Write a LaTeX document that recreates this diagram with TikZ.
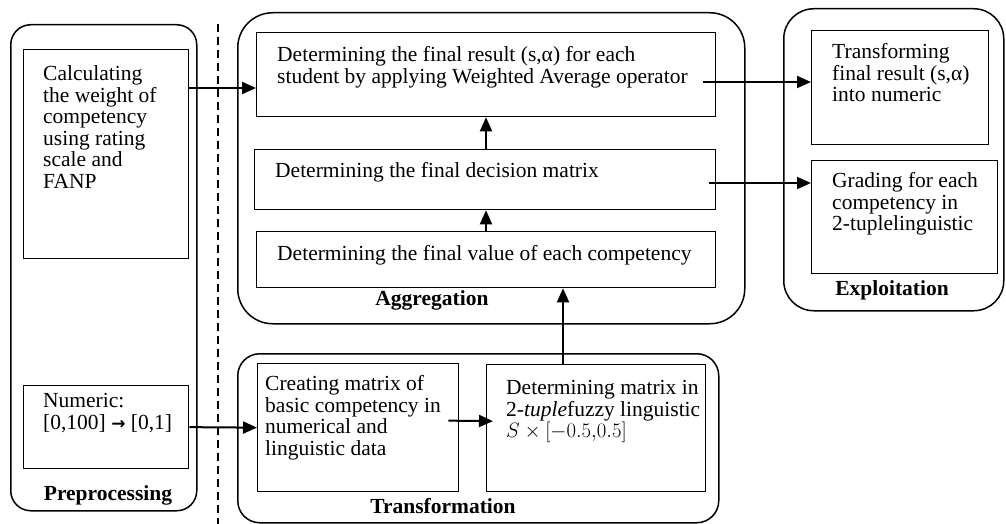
\documentclass[tikz,border=0pt]{standalone}
\usepackage{fontspec}
\setmainfont{Liberation Serif}[BoldFont={Liberation Serif Bold}, ItalicFont={Liberation Serif Italic}, BoldItalicFont={Liberation Serif Bold Italic}]
\newfontfamily\arrowfont{DejaVu Sans}[BoldFont={DejaVu Sans Bold}]
\usetikzlibrary{arrows.meta,calc}
\begin{document}
\begin{tikzpicture}[x=1pt,y=-1pt,
  outer/.style={draw, line width=1.5pt, rounded corners=#1, anchor=north west, inner sep=0pt},
  box/.style={draw, line width=1.3pt, anchor=north west, inner sep=0pt},
  txt/.style={anchor=north west, inner sep=0pt, align=left, font=\fontsize{21.5}{21.5}\selectfont},
  lbl/.style={anchor=base, inner sep=0pt, font=\fontsize{21.5}{21.5}\selectfont\bfseries},
  arr/.style={line width=2pt, -{Triangle[length=14pt,width=12pt]}},
  sep/.style={line width=2pt, dash pattern=on 8pt off 5pt}]
\useasboundingbox (0,0) rectangle (1006,524);
% outer groups
\node[outer=20pt, minimum width=186pt, minimum height=486pt] (pre) at (10,24) {};
\node[outer=35pt, minimum width=507pt, minimum height=311pt] (agg) at (237,12) {};
\node[outer=22pt, minimum width=481pt, minimum height=169pt] (trans) at (237,353) {};
\node[outer=30pt, minimum width=220pt, minimum height=302pt] (expl) at (783,8) {};
% separator
\coordinate (s1) at (218,24);
\coordinate (s2) at (218,524);
\draw[sep] (s1) -- (s2);
% inner boxes
\node[box, minimum width=165pt, minimum height=209pt] (calc) at (23,49) {};
\node[box, minimum width=165pt, minimum height=83pt] (num) at (23,385) {};
\node[box, minimum width=459pt, minimum height=84pt] (top) at (256,32) {};
\node[box, minimum width=461pt, minimum height=60pt] (dec) at (254,149) {};
\node[box, minimum width=459pt, minimum height=56pt] (fin) at (256,231) {};
\node[box, minimum width=201pt, minimum height=128pt] (creat) at (257,363) {};
\node[box, minimum width=219pt, minimum height=127pt] (det) at (486,364) {};
\node[box, minimum width=177pt, minimum height=114pt] (trf) at (811,30) {};
\node[box, minimum width=186pt, minimum height=113pt] (grd) at (811,160) {};
% texts
\node[txt] (tcalc) at (43,65.5) {Calculating\\the weight of\\competency\\using rating\\scale and\\FANP};
\node[txt] (tnum) at (43,393.5) {Numeric:\\{[0,100]} {\arrowfont\bfseries\fontsize{17}{17}\selectfont →} [0,1]};
\node[txt] (ttop) at (277,46.5) {Determining the final result (s,α) for each\\student by applying Weighted Average operator};
\node[txt] (tdec) at (275,162.5) {Determining the final decision matrix};
\node[txt] (tfin) at (277,245.5) {Determining the final value of each competency};
\node[txt] (tcreat) at (265,375.5) {Creating matrix of\\basic competency in\\numerical and\\linguistic data};
\node[txt] (tdet) at (506,380.5) {Determining matrix in\\2-\textit{tuple}fuzzy linguistic\\$S\times[-0.5{,}0.5]$};
\node[txt] (ttrf) at (832,43.5) {Transforming\\final result (s,α)\\into numeric};
\node[txt] (tgrd) at (832,172.5) {Grading for each\\competency in\\2-tuplelinguistic};
% labels
\node[lbl] (lpre) at (108,500) {Preprocessing};
\node[lbl] (lagg) at (432,305) {Aggregation};
\node[lbl] (ltrans) at (443,513) {Transformation};
\node[lbl] (lexpl) at (892,295) {Exploitation};
% arrows
\draw[arr] ($(calc.north east)+(0,39)$) -- ($(top.north west)+(0,56)$);
\draw[arr] (num.east) -- (creat.west);
\draw[arr] ($(creat.east)+(-11,-7)$) -- ($(det.west)+(7,-7)$);
\draw[arr] ($(det.north west)+(77,0)$) -- ($(fin.south west)+(307,0)$);
\draw[arr] ($(fin.north west)+(230,0)$) -- ($(dec.south west)+(232,0)$);
\draw[arr] ($(dec.north west)+(232,0)$) -- ($(top.south west)+(230,0)$);
\draw[arr] ($(top.north east)+(-13,50)$) -- ($(trf.north west)+(0,52)$);
\draw[arr] ($(dec.north east)+(-7,34)$) -- ($(grd.north west)+(0,23)$);
\end{tikzpicture}
\end{document}
